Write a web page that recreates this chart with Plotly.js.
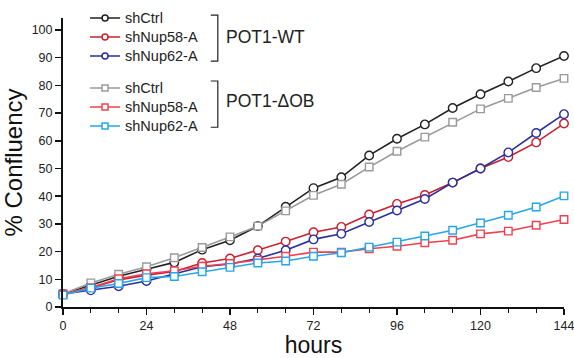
<!DOCTYPE html>
<html>
<head>
<meta charset="utf-8">
<script src="https://cdn.plot.ly/plotly-3.0.1.min.js"></script>
<style>
  html, body { margin: 0; padding: 0; background: #ffffff; }
  #chart { width: 574px; height: 358px; }
</style>
</head>
<body>
<div id="chart"></div>
<script>
// Time points (hours)
const hours = [0, 8, 16, 24, 32, 40, 48, 56, 64, 72, 80, 88, 96, 104, 112, 120, 128, 136, 144];

// POT1-WT series
const wtShCtrl   = [4.7, 7.8, 11.1, 13.6, 16.1, 20.7, 24.1, 29.2, 36.2, 42.9, 46.8, 54.7, 60.7, 65.9, 71.8, 76.8, 81.4, 86.2, 90.6];
const wtShNup58  = [4.7, 6.9, 9.8, 11.5, 12.8, 15.9, 17.5, 20.5, 23.6, 27.0, 28.9, 33.4, 37.2, 40.4, 44.9, 50.0, 54.1, 59.4, 66.2];
const wtShNup62  = [4.7, 6.0, 7.5, 9.4, 12.0, 14.5, 15.5, 17.5, 20.5, 24.4, 26.4, 30.7, 34.8, 39.0, 44.9, 50.0, 55.8, 62.8, 69.6];

// POT1-ΔOB series
const obShCtrl   = [4.7, 8.7, 11.8, 14.5, 17.8, 21.5, 25.3, 29.2, 34.7, 40.3, 44.3, 50.5, 56.2, 61.3, 66.7, 71.5, 75.3, 79.2, 82.5];
const obShNup58  = [4.7, 7.0, 10.2, 12.0, 13.1, 14.7, 15.7, 16.9, 18.3, 19.8, 19.8, 21.0, 21.9, 23.2, 24.1, 26.4, 27.4, 29.5, 31.6];
const obShNup62  = [4.3, 6.8, 8.5, 10.6, 11.0, 12.7, 14.3, 15.9, 16.6, 18.3, 19.6, 21.6, 23.4, 25.6, 27.7, 30.3, 33.1, 36.1, 40.1];

// Labels
const seriesNames = ["shCtrl", "shNup58-A", "shNup62-A"];
const groupLabels = ["POT1-WT", "POT1-\u0394OB"];
const xTickVals = [0, 24, 48, 72, 96, 120, 144];
const yTickVals = [0, 10, 20, 30, 40, 50, 60, 70, 80, 90, 100];

const wtColors = ["#222222", "#c8202f", "#2a2f9c"];
const obColors = ["#9a9a9a", "#f0404f", "#26a6ea"];

const font = "Liberation Sans, Arial, Helvetica, sans-serif";

function trace(y, color, symbol, size) {
  return {
    x: hours, y: y, type: "scatter", mode: "lines+markers",
    showlegend: false, cliponaxis: false,
    line: { color: color, width: 1.6 },
    marker: { symbol: symbol, size: size, color: "#ffffff", line: { color: color, width: 1.4 } }
  };
}
// legend-only entries (smaller symbols, like the reference key)
function key(name, color, symbol, legendId) {
  return {
    x: [null], y: [null], type: "scatter", mode: "lines+markers",
    name: '<span style="font-size:14.5px">' + name + '</span>',
    legend: legendId, showlegend: true,
    line: { color: color, width: 1.5 },
    marker: { symbol: symbol, size: 6, color: "#ffffff", line: { color: color, width: 1.5 } }
  };
}

const data = [
  trace(wtShCtrl,  wtColors[0], "circle", 8.5),
  trace(wtShNup58, wtColors[1], "circle", 8.5),
  trace(wtShNup62, wtColors[2], "circle", 8.5),
  trace(obShCtrl,  obColors[0], "square", 7.5),
  trace(obShNup58, obColors[1], "square", 7.5),
  trace(obShNup62, obColors[2], "square", 7.5),
  key(seriesNames[0], wtColors[0], "circle", "legend"),
  key(seriesNames[1], wtColors[1], "circle", "legend"),
  key(seriesNames[2], wtColors[2], "circle", "legend"),
  key(seriesNames[0], obColors[0], "square", "legend2"),
  key(seriesNames[1], obColors[1], "square", "legend2"),
  key(seriesNames[2], obColors[2], "square", "legend2")
];

const legendStyle = {
  x: 0.044, xanchor: "left", yanchor: "top",
  font: { family: font, size: 12.2, color: "#222222" },
  bgcolor: "rgba(0,0,0,0)", itemwidth: 30, traceorder: "normal"
};

const layout = {
  width: 574, height: 358,
  margin: { l: 63, r: 10, t: 18, b: 51, pad: 0, autoexpand: false },
  paper_bgcolor: "#ffffff", plot_bgcolor: "#ffffff",
  font: { family: font, color: "#222222", size: 12.5 },
  showlegend: true,
  legend: Object.assign({}, legendStyle, { y: 1.05 }),
  legend2: Object.assign({}, legendStyle, { y: 0.808 }),
  xaxis: {
    range: [0, 144], tickvals: xTickVals, ticktext: xTickVals.map(String),
    ticks: "outside", ticklen: 6, tickwidth: 1.5, tickcolor: "#111",
    minor: { dtick: 8, tick0: 0, ticks: "outside", ticklen: 4, tickwidth: 1.2, tickcolor: "#111", showgrid: false },
    showline: true, linecolor: "#111", linewidth: 2,
    showgrid: false, zeroline: false, ticklabeloverflow: "allow",
    tickfont: { family: font, size: 12.5, color: "#222" },
    title: { text: "hours", font: { family: font, size: 23, color: "#111" }, standoff: 7 }
  },
  yaxis: {
    range: [0, 104.3], tickvals: yTickVals, ticktext: yTickVals.map(String),
    ticks: "outside", ticklen: 6, tickwidth: 1.5, tickcolor: "#111",
    showline: true, linecolor: "#111", linewidth: 2,
    showgrid: false, zeroline: false,
    tickfont: { family: font, size: 12.5, color: "#222" },
    title: { text: "% Confluency", font: { family: font, size: 24, color: "#111" }, standoff: 2 }
  },
  shapes: [
    { type: "path", xref: "paper", yref: "paper", path: "M 0.295,1.010 L 0.309,1.010 L 0.309,0.851 L 0.295,0.851",
      line: { color: "#222", width: 1.2 } },
    { type: "path", xref: "paper", yref: "paper", path: "M 0.295,0.782 L 0.309,0.782 L 0.309,0.622 L 0.295,0.622",
      line: { color: "#222", width: 1.2 } }
  ],
  annotations: [
    { text: groupLabels[0], xref: "paper", yref: "paper", x: 0.321, y: 0.933, xanchor: "left", yanchor: "middle",
      showarrow: false, font: { family: font, size: 17.5, color: "#222" } },
    { text: groupLabels[1], xref: "paper", yref: "paper", x: 0.321, y: 0.714, xanchor: "left", yanchor: "middle",
      showarrow: false, font: { family: font, size: 17.5, color: "#222" } }
  ]
};

Plotly.newPlot("chart", data, layout, { displayModeBar: false, staticPlot: true });
</script>
</body>
</html>
